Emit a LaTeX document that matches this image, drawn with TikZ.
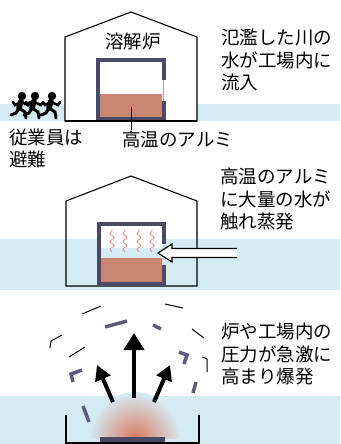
\documentclass[tikz,border=0pt]{standalone}
\usepackage{fontspec}
\usepackage{xcolor}
\usepackage{tikz}
\usetikzlibrary{arrows.meta,decorations.pathmorphing}
\newfontfamily\jpfont{Noto Sans CJK JP}
\definecolor{furnacegray}{HTML}{4B4A66}
\definecolor{molten}{HTML}{C98670}
\definecolor{flood}{HTML}{D5EBF4}
\definecolor{heatwave}{HTML}{E48C82}
\definecolor{debris}{HTML}{5E5C7E}
\definecolor{blastred}{HTML}{D97A60}
\tikzset{
    house-line/.style = {draw=black, line width=1.1pt},
    furnace-wall/.style = {draw=furnacegray, line width=4pt},
    note-text/.style = {font=\jpfont\fontsize{18.5}{22.5}\selectfont, align=left, inner sep=0pt, anchor=north west},
    label-text/.style = {font=\jpfont\fontsize{18.5}{22}\selectfont, inner sep=0pt},
    steam/.style = {draw=heatwave, line width=0.8pt, decorate, decoration={snake, amplitude=2pt, segment length=8pt}},
    inflow-arrow/.style = {fill=white, draw=black, line width=1.2pt},
    blast-arrow/.style = {line width=4.5pt, -{Triangle[width=20pt,length=17pt]}},
    side-arrow/.style = {line width=4pt, -{Triangle[width=16pt,length=15pt]}},
    debris-thick/.style = {draw=debris, line width=3.5pt},
    debris-thin/.style = {draw=black, line width=1pt},
    runner/.pic = {
        \fill (0,0) circle (4.2);
        \draw[line width=5.5pt, line cap=round] (-1,5) -- (-3,12);
        \draw[line width=2.6pt, line cap=round] (-1,6) -- (6,9) -- (8,6);
        \draw[line width=2.6pt, line cap=round] (-1,6) -- (-7,9) -- (-9,6);
        \draw[line width=3pt, line cap=round] (-3,12) -- (3,16) -- (4,22);
        \draw[line width=3pt, line cap=round] (-3,12) -- (-6,17) -- (-11,19);
    },
}

\begin{document}
\begin{tikzpicture}[x=1pt,y=-1pt]
\useasboundingbox (0,0) rectangle (340,444);

% --- water coming in
\fill[flood] (0,104) rectangle (340,121);
\filldraw[house-line, fill=white] (65,121) -- (65,37) -- (131,12) -- (197,37) -- (197,121) -- cycle;
\fill[molten] (100,94) rectangle (162,117);
\draw[furnacegray!50, line width=0.8pt] (163,78) -- (163,103);
\draw[furnace-wall] (164,80) -- (164,60) -- (98,60) -- (98,119) -- (164,119) -- (164,101);
\draw[house-line] (65,121) -- (197,121);
\node[label-text] (furnace-label) at (133,41) {溶解炉};
\node[label-text, anchor=west] (alu-label) at (122,139) {高温のアルミ};
\coordinate (alu-spot) at (131,107);
\draw[line width=0.8pt] (alu-spot) -- (alu-spot |- alu-label.north);
\pic at (22,96) {runner};
\pic at (35,96) {runner};
\pic at (52,96) {runner};
\node[label-text, anchor=north west, align=left] (staff-label) at (9,129) {従業員は\\避難};
\node[note-text] (flood-note) at (221,29) {氾濫した川の\\水が工場内に\\流入};

% --- steam
\fill[flood] (0,239) rectangle (340,290);
\draw[house-line] (66,286) -- (66,201) -- (131,176) -- (197,201) -- (197,286) -- cycle;
\fill[white] (101,226) rectangle (162,248);
\fill[molten] (101,258) rectangle (162,282);
\draw[furnace-wall] (164,244) -- (164,224) -- (99,224) -- (99,284) -- (164,284) -- (164,265);
\draw[steam] (112,252) -- (112,229);
\draw[steam] (125,252) -- (125,229);
\draw[steam] (139,252) -- (139,229);
\draw[steam] (152,252) -- (152,229);
\filldraw[inflow-arrow] (237,248.5) -- (172,248.5) -- (172,244) -- (158,253) -- (172,262) -- (172,257.5) -- (237,257.5);
\node[note-text] (steam-note) at (220,168) {高温のアルミ\\に大量の水が\\触れ蒸発};

% --- explosion
\fill[flood] (0,396) rectangle (340,444);
\begin{scope}
    \clip (80,380) rectangle (190,438);
    \shade[inner color=blastred, outer color=flood] (135,438) circle (46);
\end{scope}
\fill[furnacegray] (100,437) rectangle (165,443);
\draw[house-line] (66,415) -- (66,443) -- (199,443) -- (199,415);
\draw[debris-thick] (105,327) -- (127,321);
\draw[debris-thick] (153,325) -- (161,329);
\draw[debris-thick] (179,352) -- (187,355) -- (184,364);
\draw[debris-thick] (73,382) -- (71,374) -- (82,370);
\draw[debris-thick] (196,382) -- (193,393);
\draw[debris-thick] (83,406) -- (89,422);
\draw[debris-thin] (82,314) -- (101,306);
\draw[debris-thin] (165,304) -- (183,308);
\draw[debris-thin] (192,329) -- (204,338);
\draw[debris-thin] (50,348) -- (51,341) -- (62,335);
\draw[debris-thin] (69,357) -- (85,347);
\draw[debris-thin] (202,357) -- (207,359) -- (207,372);
\coordinate (blast-root) at (134,398);
\coordinate (blast-top) at (134,333);
\coordinate (left-root) at (113,402);
\coordinate (left-top) at (97,365);
\coordinate (right-root) at (154,402);
\coordinate (right-top) at (170,365);
\draw[blast-arrow] (blast-root) -- (blast-top);
\draw[side-arrow] (left-root) -- (left-top);
\draw[side-arrow] (right-root) -- (right-top);
\node[note-text] (blast-note) at (221,323) {炉や工場内の\\圧力が急激に\\高まり爆発};
\end{tikzpicture}
\end{document}
